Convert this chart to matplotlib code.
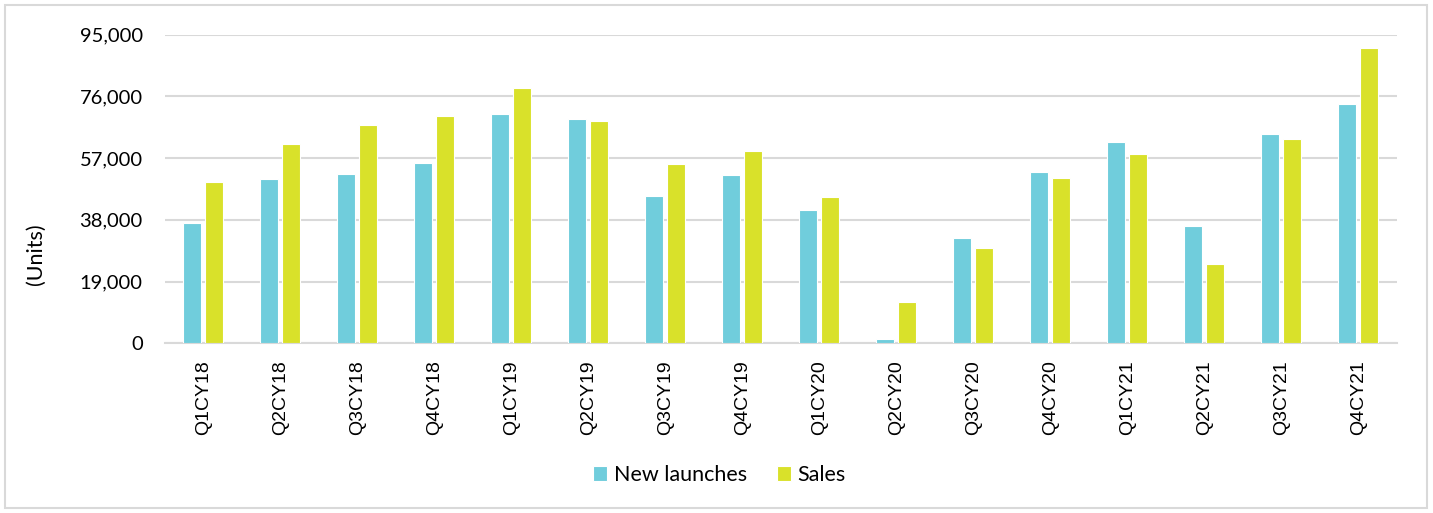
import numpy as np
import matplotlib.pyplot as plt
from matplotlib.patches import Rectangle

quarters = ["Q1CY18", "Q2CY18", "Q3CY18", "Q4CY18", "Q1CY19", "Q2CY19", "Q3CY19", "Q4CY19",
            "Q1CY20", "Q2CY20", "Q3CY20", "Q4CY20", "Q1CY21", "Q2CY21", "Q3CY21", "Q4CY21"]
new_launches = [36900, 50500, 52100, 55500, 70500, 69000, 45200, 51800,
                41000, 1300, 32500, 52700, 62000, 36100, 64500, 73700]
sales = [49700, 61400, 67100, 69900, 78500, 68500, 55100, 59100,
         45000, 12700, 29400, 50800, 58200, 24400, 62800, 90800]
yticks = [0, 19000, 38000, 57000, 76000, 95000]

c_nl = "#70CDDC"
c_sales = "#D9E12A"
grid_c = "#D9D9D9"

fig = plt.figure(figsize=(14.33, 5.13), dpi=100)
ax = fig.add_axes([0.1151, 0.3308, 0.8597, 0.6018])

x = np.arange(len(quarters))
w = 0.235
off = 0.143
ax.bar(x - off, new_launches, w, color=c_nl, edgecolor="white", linewidth=0.8,
       label="New launches", zorder=3)
ax.bar(x + off, sales, w, color=c_sales, edgecolor="white", linewidth=0.8,
       label="Sales", zorder=3)

ax.set_xlim(-0.5, len(quarters) - 0.5)
ax.set_ylim(0, 95000)
ax.set_yticks(yticks)
ax.set_yticklabels([f"{v:,}" for v in yticks], fontfamily="Lato", fontsize=14.5, color="#000000")
ax.set_xticks(x)
ax.set_xticklabels(quarters, rotation=90, fontfamily="Liberation Sans", fontsize=14,
                   color="#000000")
ax.tick_params(axis="both", length=0)
ax.tick_params(axis="y", pad=16)
ax.tick_params(axis="x", pad=12)
ax.grid(axis="y", color=grid_c, linewidth=1.5, zorder=0)
for s in ["top", "right", "left"]:
    ax.spines[s].set_visible(False)
ax.spines["bottom"].set_color(grid_c)
ax.spines["bottom"].set_linewidth(1.5)

ax.set_ylabel("(Units)", fontfamily="Lato", fontsize=15.5)
ax.yaxis.set_label_coords(-0.097, 0.29)

fig.legend(loc="center", bbox_to_anchor=(0.502, 0.074), ncol=2, frameon=False,
           prop={"family": "Lato", "size": 15.5}, handlelength=0.65, handleheight=0.65,
           handletextpad=0.3, columnspacing=1.4)

fig.patches.append(Rectangle((5 / 1433, 5 / 513), 1422 / 1433, 503 / 513,
                             transform=fig.transFigure, fill=False,
                             edgecolor=grid_c, linewidth=1.5))

fig.savefig("out.png", dpi=100)
